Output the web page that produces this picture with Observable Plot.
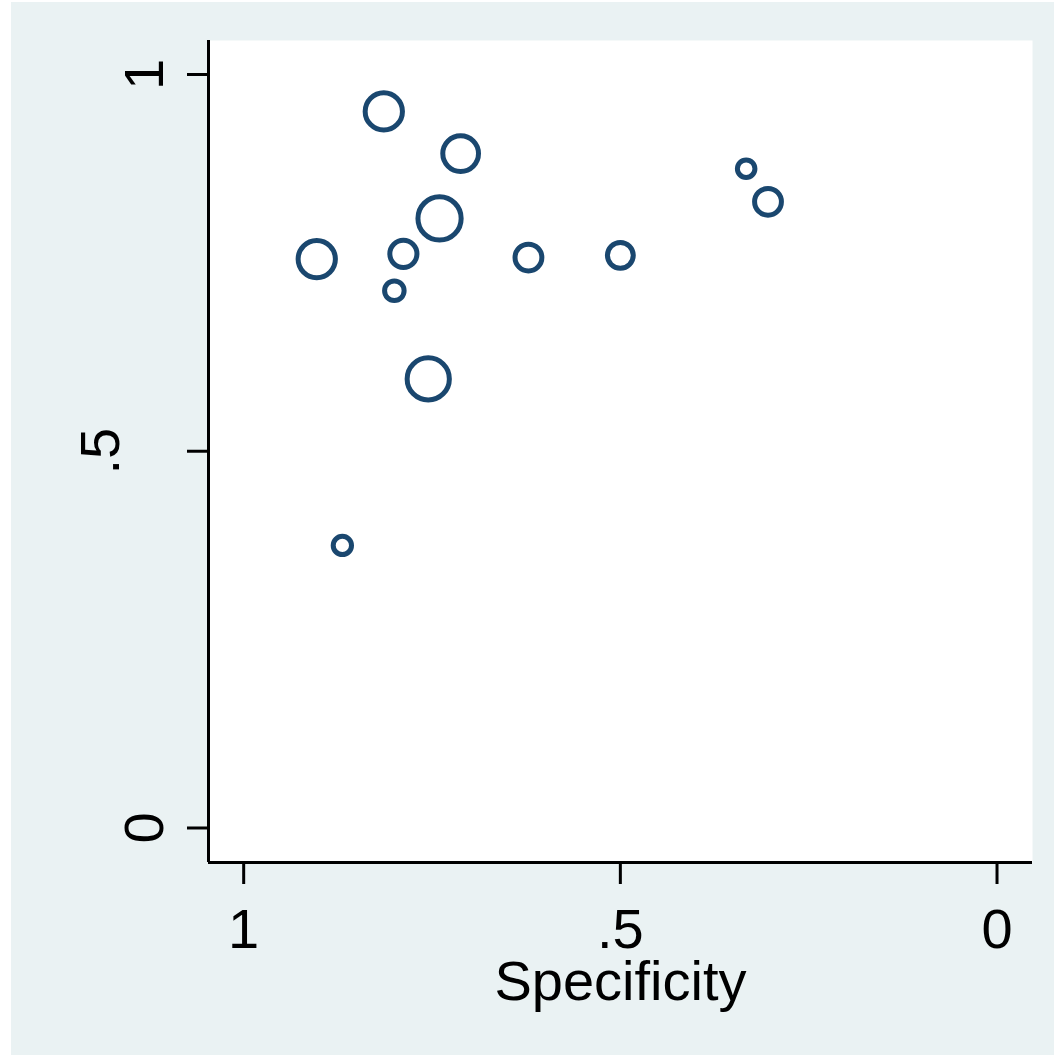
<!DOCTYPE html>
<html><head><meta charset="utf-8">
<script src="https://cdn.jsdelivr.net/npm/d3@7"></script>
<script src="https://cdn.jsdelivr.net/npm/@observablehq/plot@0.6"></script>
<style>
html,body{margin:0;padding:0;background:#fff;}
#wrap{position:relative;width:1054px;height:1055px;overflow:hidden;}
#bg{position:absolute;left:11px;top:2px;right:0;bottom:0;background:#EAF2F3;}
#chart{position:absolute;left:0;top:0;}
</style></head><body>
<div id="wrap"><div id="bg"></div><div id="chart"></div></div>
<script>
// Study estimates
const specificity = [0.814, 0.712, 0.740, 0.903, 0.788, 0.800, 0.755, 0.622, 0.333, 0.304, 0.500, 0.869];
const sensitivity = [0.951, 0.895, 0.809, 0.755, 0.762, 0.713, 0.596, 0.757, 0.875, 0.831, 0.760, 0.375];
const studyWeight = [357, 328, 480, 357, 189, 98, 458, 185, 79, 185, 172, 86];

const xTicks = [1, 0.5, 0];
const xTickLabels = ["1", ".5", "0"];
const yTicks = [0, 0.5, 1];
const yTickLabels = ["0", ".5", "1"];
const xLabel = "Specificity";

const studies = specificity.map((s, i) => ({spec: s, sens: sensitivity[i], w: studyWeight[i]}));
const yLabelData = yTicks.map((v, i) => ({v, label: yTickLabels[i]}));

const xDomain = [1.0467, -0.0471];
const yDomain = [-0.0458, 1.0451];
const ink = "#000";
const navy = "#1A476F";
const fs = 56;

const chart = Plot.plot({
  width: 1054,
  height: 1055,
  marginLeft: 208,
  marginRight: 22,
  marginTop: 40,
  marginBottom: 193,
  style: {background: "transparent", fontFamily: "'Liberation Sans', Arial, Helvetica, sans-serif", overflow: "visible"},
  x: {domain: xDomain, range: [208, 1032]},
  y: {domain: yDomain, range: [862, 40]},
  r: {type: "sqrt", domain: [0, 484], range: [0, 21.7]},
  marks: [
    Plot.frame({fill: "white", stroke: null}),
    Plot.axisX({ticks: xTicks, tickSize: 22, tickFormat: () => "", strokeWidth: 3, stroke: ink, label: null}),
    Plot.axisY({ticks: yTicks, tickSize: 21, tickFormat: () => "", strokeWidth: 3, stroke: ink, label: null}),
    Plot.ruleX([xDomain[0]], {stroke: ink, strokeWidth: 3}),
    Plot.ruleY([yDomain[0]], {stroke: ink, strokeWidth: 3}),
    Plot.text(xTicks, {x: d => d, text: (d, i) => xTickLabels[i], frameAnchor: "bottom", dy: 85, lineAnchor: "bottom", fontSize: fs, fill: ink}),
    Plot.text(yLabelData.filter(d => d.label.length === 1), {y: "v", text: "label", frameAnchor: "left", dx: -46, rotate: -90, textAnchor: "middle", lineAnchor: "bottom", fontSize: fs, fill: ink}),
    Plot.text(yLabelData.filter(d => d.label.length > 1), {y: "v", text: "label", frameAnchor: "left", dx: -90, rotate: -90, textAnchor: "middle", lineAnchor: "bottom", fontSize: fs, fill: ink}),
    Plot.text([xLabel], {text: d => d, frameAnchor: "bottom", dy: 137, lineAnchor: "bottom", fontSize: fs, fill: ink}),
    Plot.dot(studies, {x: "spec", y: "sens", r: "w", stroke: navy, strokeWidth: 5, fill: "none"})
  ]
});
document.getElementById("chart").appendChild(chart);
</script>
</body></html>
